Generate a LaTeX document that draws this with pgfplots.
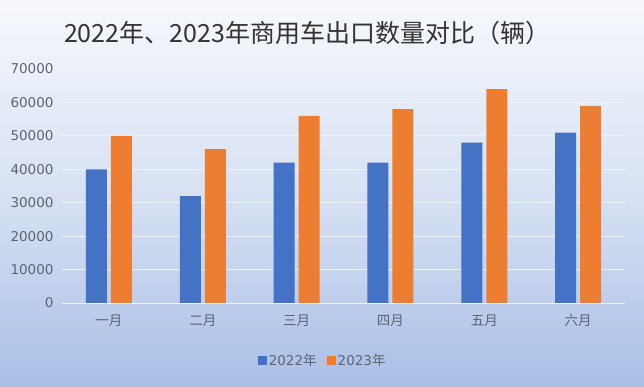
\documentclass[border=0pt]{standalone}
\usepackage{fontspec}
\setmainfont{Noto Sans CJK SC}
\newfontfamily\dv{DejaVu Sans}
\usepackage{pgfplots}
\pgfplotsset{compat=1.18}
\definecolor{bblue}{HTML}{4472C4}
\definecolor{borange}{HTML}{ED7D31}
\definecolor{bgtop}{HTML}{F6F8FC}
\definecolor{bgbot}{HTML}{A9BFE6}
\definecolor{tickgray}{HTML}{5F6470}
\begin{document}
\begin{tikzpicture}[x=1pt,y=1pt]
\shade[top color=bgtop, bottom color=bgbot, middle color=bgtop!60!bgbot] (0,0) rectangle (644,387);
\node[font=\fontsize{25}{28}\selectfont, text=black!80] at (307,354) {2022年、2023年商用车出口数量对比（辆）};
\begin{axis}[
  at={(62pt,84pt)}, anchor=south west,
  scale only axis, width=563pt, height=234pt,
  ybar=4pt, bar width=21pt,
  xmin=-0.5, xmax=5.5, ymin=0, ymax=70000,
  xtick=data, xticklabels={一月,二月,三月,四月,五月,六月},
  ytick={0,10000,...,70000},
  axis line style={draw=none},
  major tick length=0pt,
  ymajorgrids, major grid style={white!80!bgbot, line width=0.8pt},
  scaled y ticks=false,
  /pgf/number format/assume math mode=true,
  yticklabel style={/pgf/number format/fixed, /pgf/number format/1000 sep={}, font=\dv\fontsize{13.5}{15}\selectfont, text=tickgray, xshift=-5pt},
  xticklabel style={font=\fontsize{13.5}{15}\selectfont, text=tickgray, yshift=-8pt},
  xtick style={draw=none},
  legend style={at={(0.463,-0.244)}, anchor=center, draw=none, fill=none, legend columns=2, font=\fontsize{13.5}{15}\selectfont, text=tickgray, /tikz/every even column/.append style={column sep=8pt}},
  legend image code/.code={\fill[#1] (0pt,-4.5pt) rectangle (9pt,4.5pt);},
]
\addplot[fill=bblue, draw=none] coordinates {(0,40000) (1,32000) (2,42000) (3,42000) (4,48000) (5,51000)};
\addplot[fill=borange, draw=none] coordinates {(0,50000) (1,46000) (2,56000) (3,58000) (4,64000) (5,59000)};
\legend{{\dv 2022}年,{\dv 2023}年}
\end{axis}
\end{tikzpicture}
\end{document}
